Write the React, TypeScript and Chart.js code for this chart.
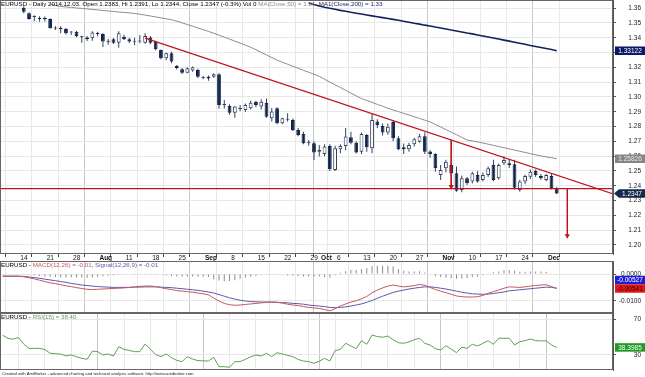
import React, { useEffect, useRef } from "react";
import { Chart, registerables } from "chart.js";

Chart.register(...registerables);

const FONT = '"Liberation Sans", Arial, sans-serif';

// ---------- time axis: trading-day index, 0 = 2014-07-14 ----------
const X_MIN = -3.5;
const X_MAX = 112.66;
const tickIdx = [0, 5, 10, 15, 20, 25, 30, 35, 40, 45, 50, 55, 57, 60, 65, 70, 75, 80, 85, 90, 95, 100];
const tickLabels = ["14", "21", "28", "Aug", "11", "18", "25", "Sep", "8", "15", "22", "29", "Oct", "6", "13", "20", "27", "Nov", "10", "17", "24", "Dec"];
const monthLabels = ["Aug", "Sep", "Oct", "Nov", "Dec"];

// ---------- daily bars: index 1 (2014-07-15) .. 102 (2014-12-03) ----------
const symbol = "EURUSD";
const lastDate = "2014.12.03";
const volume = 0;
const BAR_START = 1;
const opens = [
  1.3603, 1.3566, 1.354, 1.3529, 1.3528, 1.3527, 1.3466, 1.3461, 1.3459, 1.3436,
  1.3441, 1.3405, 1.3401, 1.3397, 1.3428, 1.3426, 1.3375, 1.339, 1.3367, 1.3407,
  1.339, 1.3373, 1.3374, 1.3367, 1.3401, 1.3374, 1.3318, 1.3261, 1.3295, 1.3209,
  1.3187, 1.3164, 1.3178, 1.3182, 1.3137, 1.3136, 1.3137, 1.3153, 1.2946, 1.2939,
  1.2894, 1.2918, 1.2912, 1.2924, 1.2968, 1.2935, 1.2961, 1.2856, 1.2924, 1.2822,
  1.2846, 1.2845, 1.2777, 1.275, 1.2692, 1.2687, 1.263, 1.2615, 1.2669, 1.2507,
  1.2647, 1.2669, 1.2728, 1.2691, 1.263, 1.2743, 1.2654, 1.2834, 1.2804, 1.2759,
  1.283, 1.2721, 1.2661, 1.2647, 1.268, 1.2698, 1.2735, 1.2631, 1.2615, 1.2473,
  1.2518, 1.2541, 1.2484, 1.2372, 1.2451, 1.2428, 1.2473, 1.2439, 1.2473, 1.2541,
  1.2451, 1.2552, 1.2552, 1.2545, 1.2372, 1.2428, 1.2461, 1.2502, 1.2466, 1.2439,
  1.2466, 1.2383,
];
const highs = [
  1.3612, 1.3572, 1.3552, 1.3545, 1.3543, 1.3532, 1.3478, 1.3478, 1.3466, 1.3446,
  1.3445, 1.3414, 1.3412, 1.3444, 1.344, 1.343, 1.3392, 1.3398, 1.3444, 1.342,
  1.34, 1.34, 1.3418, 1.343, 1.3412, 1.338, 1.332, 1.33, 1.3305, 1.3216,
  1.3195, 1.32, 1.3205, 1.319, 1.3142, 1.3145, 1.316, 1.316, 1.298, 1.295,
  1.2938, 1.2945, 1.2955, 1.2975, 1.2975, 1.2985, 1.299, 1.2925, 1.293, 1.286,
  1.289, 1.2855, 1.279, 1.2765, 1.271, 1.27, 1.2676, 1.268, 1.268, 1.267,
  1.268, 1.2791, 1.2765, 1.27, 1.276, 1.275, 1.2888, 1.285, 1.282, 1.282,
  1.284, 1.2735, 1.2685, 1.269, 1.2725, 1.275, 1.276, 1.264, 1.262, 1.2541,
  1.2575, 1.255, 1.253, 1.247, 1.246, 1.2495, 1.25, 1.249, 1.253, 1.2575,
  1.255, 1.26, 1.258, 1.2575, 1.244, 1.2475, 1.251, 1.251, 1.248, 1.248,
  1.248, 1.2391,
];
const lows = [
  1.3566, 1.3521, 1.3512, 1.3508, 1.351, 1.346, 1.3452, 1.343, 1.3422, 1.3418,
  1.3404, 1.3367, 1.3378, 1.338, 1.341, 1.3338, 1.3352, 1.3358, 1.3333, 1.3385,
  1.3365, 1.335, 1.3362, 1.336, 1.3356, 1.3315, 1.3255, 1.3248, 1.3228, 1.3185,
  1.3155, 1.316, 1.317, 1.3128, 1.312, 1.311, 1.313, 1.292, 1.2922, 1.288,
  1.286, 1.2905, 1.29, 1.2915, 1.293, 1.2915, 1.286, 1.2835, 1.2815, 1.2815,
  1.2834, 1.277, 1.2735, 1.268, 1.267, 1.2574, 1.2597, 1.26, 1.25, 1.25,
  1.262, 1.264, 1.268, 1.2618, 1.2615, 1.263, 1.262, 1.279, 1.274, 1.2745,
  1.27, 1.264, 1.2615, 1.263, 1.2665, 1.269, 1.2615, 1.259, 1.2495, 1.2439,
  1.249, 1.247, 1.236, 1.2357, 1.2405, 1.2415, 1.242, 1.243, 1.246, 1.243,
  1.244, 1.254, 1.252, 1.2375, 1.236, 1.241, 1.2445, 1.246, 1.244, 1.243,
  1.2375, 1.2344,
];
const closes = [
  1.3576, 1.3527, 1.3542, 1.3527, 1.3526, 1.3464, 1.3462, 1.3459, 1.343, 1.3438,
  1.3412, 1.3403, 1.339, 1.3435, 1.3426, 1.3374, 1.3373, 1.3367, 1.343, 1.339,
  1.3374, 1.3375, 1.3376, 1.3412, 1.3367, 1.3322, 1.3261, 1.3295, 1.3239, 1.3196,
  1.3164, 1.3194, 1.32, 1.3137, 1.3129, 1.3124, 1.3153, 1.2946, 1.2952, 1.2894,
  1.2935, 1.2921, 1.2946, 1.2961, 1.2946, 1.2968, 1.2867, 1.2902, 1.2822, 1.2856,
  1.2849, 1.2777, 1.2743, 1.2687, 1.2688, 1.2624, 1.2642, 1.2665, 1.2512, 1.2654,
  1.2669, 1.2732, 1.2691, 1.2624, 1.275, 1.2661, 1.2845, 1.2811, 1.2759, 1.2799,
  1.2721, 1.2647, 1.2647, 1.2676, 1.2715, 1.2735, 1.263, 1.2615, 1.2518, 1.2507,
  1.2563, 1.2484, 1.2367, 1.2451, 1.2417, 1.2484, 1.2428, 1.2473, 1.2518, 1.2439,
  1.2541, 1.2574, 1.2541, 1.2387, 1.2428, 1.2466, 1.2495, 1.2473, 1.2451, 1.2473,
  1.2383, 1.2347,
];

// ---------- moving averages ----------
const MA50_START = 6;
const ma50 = [
  1.3628, 1.3618, 1.3611, 1.3608, 1.3605, 1.3601, 1.3598, 1.3595, 1.3591, 1.3588,
  1.3584, 1.3581, 1.3578, 1.3574, 1.3571, 1.3568, 1.3564, 1.3559, 1.3553, 1.3547,
  1.3541, 1.3534, 1.3528, 1.3522, 1.3512, 1.3501, 1.3489, 1.3478, 1.3466, 1.3455,
  1.3443, 1.343, 1.3418, 1.3404, 1.3391, 1.3377, 1.3364, 1.335, 1.3336, 1.3319,
  1.3301, 1.3284, 1.3266, 1.3249, 1.3234, 1.3221, 1.3207, 1.3194, 1.318, 1.3167,
  1.3153, 1.3139, 1.312, 1.3101, 1.3082, 1.3064, 1.3045, 1.3026, 1.3007, 1.2989,
  1.2976, 1.2963, 1.295, 1.2937, 1.2924, 1.2912, 1.2901, 1.2889, 1.2878, 1.2866,
  1.2855, 1.2843, 1.2831, 1.2814, 1.2797, 1.278, 1.2762, 1.2745, 1.2727, 1.2709,
  1.2703, 1.2696, 1.2689, 1.2681, 1.2673, 1.2665, 1.2657, 1.2649, 1.2641, 1.2633,
  1.2625, 1.2617, 1.2609, 1.2602, 1.2595, 1.2589, 1.25826,
];
const MA200_START = 55;
const ma200 = [
  1.3635, 1.3624, 1.3614, 1.3606, 1.3599, 1.3592, 1.3585, 1.3579, 1.3572, 1.3566,
  1.356, 1.3554, 1.3548, 1.3542, 1.3536, 1.353, 1.3524, 1.3518, 1.3511, 1.3505,
  1.3498, 1.3492, 1.3485, 1.3479, 1.3472, 1.3466, 1.3459, 1.3452, 1.3446, 1.3439,
  1.3432, 1.3426, 1.3419, 1.3412, 1.3405, 1.3398, 1.3391, 1.3384, 1.3377, 1.337,
  1.3363, 1.3356, 1.3348, 1.3341, 1.3334, 1.3327, 1.332, 1.33122,
];

// ---------- drawn pattern (descending triangle) ----------
const trendLine = [{ i: 24, v: 1.3397 }, { i: 113, v: 1.2341 }];
const supportLine = [{ i: -4, v: 1.238 }, { i: 113, v: 1.238 }];
const arrowLeft = [{ i: 82, v: 1.2709 }, { i: 82, v: 1.2395 }];
const arrowRight = [{ i: 104, v: 1.238 }, { i: 104, v: 1.2062 }];

const priceTicks = [1.2, 1.21, 1.22, 1.23, 1.24, 1.25, 1.26, 1.27, 1.28, 1.29, 1.3, 1.31, 1.32, 1.33, 1.34, 1.35, 1.36];

// ---------- indicators: index -3 (2014-07-09) .. 102 ----------
const IND_START = -3;
const macd = [
  -0.0008, -0.0008, -0.0008, -0.0008, -0.001, -0.0014, -0.0018, -0.0023, -0.0028, -0.0033,
  -0.0036, -0.004, -0.0044, -0.0047, -0.0051, -0.0054, -0.0057, -0.0058, -0.0057, -0.0056,
  -0.0055, -0.0054, -0.0053, -0.0052, -0.005, -0.0048, -0.0046, -0.0045, -0.0045, -0.0047,
  -0.0051, -0.0055, -0.0058, -0.0062, -0.0064, -0.0066, -0.0068, -0.0071, -0.0074, -0.0078,
  -0.009, -0.0101, -0.011, -0.0115, -0.0117, -0.0116, -0.0114, -0.0112, -0.011, -0.0108,
  -0.0106, -0.0105, -0.0106, -0.0109, -0.0113, -0.0116, -0.0118, -0.0122, -0.0125, -0.0127,
  -0.0129, -0.0133, -0.0138, -0.013, -0.012, -0.0112, -0.0105, -0.01, -0.0093, -0.0084,
  -0.007, -0.006, -0.0052, -0.0045, -0.0041, -0.0045, -0.0048, -0.0046, -0.0043, -0.0039,
  -0.0042, -0.005, -0.0058, -0.0064, -0.007, -0.0076, -0.0082, -0.0085, -0.0086, -0.0086,
  -0.0085, -0.008, -0.0072, -0.0066, -0.006, -0.0053, -0.0048, -0.0049, -0.005, -0.0048,
  -0.0045, -0.0043, -0.0041, -0.004, -0.0047, -0.00541,
];
const signal = [
  -0.0008, -0.0008, -0.0008, -0.0008, -0.0009, -0.0011, -0.0013, -0.0016, -0.0019, -0.0022,
  -0.0025, -0.0028, -0.0031, -0.0035, -0.0038, -0.0041, -0.0043, -0.0045, -0.0047, -0.0048,
  -0.0049, -0.005, -0.005, -0.005, -0.005, -0.0049, -0.0049, -0.0048, -0.0048, -0.0048,
  -0.0049, -0.005, -0.0051, -0.0053, -0.0055, -0.0057, -0.0059, -0.0061, -0.0064, -0.0067,
  -0.0071, -0.0077, -0.0083, -0.0089, -0.0094, -0.0098, -0.0101, -0.0103, -0.0104, -0.0105,
  -0.0105, -0.0105, -0.0106, -0.0107, -0.0108, -0.011, -0.0111, -0.0113, -0.0116, -0.0118,
  -0.012, -0.0122, -0.0125, -0.0126, -0.0125, -0.0123, -0.012, -0.0116, -0.0112, -0.0106,
  -0.0099, -0.0091, -0.0083, -0.0076, -0.0069, -0.0064, -0.006, -0.0056, -0.0053, -0.005,
  -0.0048, -0.0048, -0.005, -0.0053, -0.0056, -0.006, -0.0064, -0.0068, -0.0071, -0.0074,
  -0.0075, -0.0076, -0.0075, -0.0073, -0.007, -0.0067, -0.0063, -0.0061, -0.0059, -0.0057,
  -0.0055, -0.0053, -0.0051, -0.0049, -0.005, -0.00527,
];
const histogram = [
  0, 0, 0, 0, -0.0001, -0.0003, -0.0005, -0.0007, -0.0009, -0.0011,
  -0.0011, -0.0012, -0.0013, -0.0012, -0.0013, -0.0013, -0.0014, -0.0013, -0.001, -0.0008,
  -0.0006, -0.0004, -0.0003, -0.0002, 0, 0.0001, 0.0003, 0.0003, 0.0003, 0.0001,
  -0.0002, -0.0005, -0.0007, -0.0009, -0.0009, -0.0009, -0.0009, -0.001, -0.001, -0.0011,
  -0.0019, -0.0024, -0.0027, -0.0026, -0.0023, -0.0018, -0.0013, -0.0009, -0.0006, -0.0003,
  -0.0001, 0, 0, -0.0002, -0.0005, -0.0006, -0.0007, -0.0009, -0.0009, -0.0009,
  -0.0009, -0.0011, -0.0013, -0.0004, 0.0005, 0.0011, 0.0015, 0.0016, 0.0019, 0.0022,
  0.0029, 0.0031, 0.0031, 0.0031, 0.0028, 0.0019, 0.0012, 0.001, 0.001, 0.0011,
  0.0006, -0.0002, -0.0008, -0.0011, -0.0014, -0.0016, -0.0018, -0.0017, -0.0015, -0.0012,
  -0.001, -0.0004, 0.0003, 0.0007, 0.001, 0.0014, 0.0015, 0.0012, 0.0009, 0.0009,
  0.001, 0.001, 0.001, 0.0009, 0.0003, -0.0001,
];
const rsi = [
  52, 48.5, 47.6, 49.5, 42, 37.4, 37.4, 37.4, 36, 31.9,
  31.5, 31, 29, 30, 28, 26.3, 25.2, 34.4, 33.7, 30,
  31.1, 28.9, 39.2, 36.3, 35, 33.7, 33.7, 42.2, 36.5, 30.5,
  28.1, 31.1, 27, 24, 22.6, 28.1, 25.5, 23.7, 23.5, 23.3,
  27.4, 17, 17, 16.3, 22.6, 22.6, 25.2, 28, 30, 28.9,
  31.9, 28.1, 32.6, 31.1, 29.5, 28.1, 25, 23.3, 22.6, 20.8,
  23, 26.3, 23.3, 34.8, 36.3, 43, 40, 37, 45.9, 41.9,
  52.2, 50.5, 49.7, 51.1, 47, 43.7, 43, 44.5, 47, 48.6,
  43, 41.1, 37, 35.6, 40.3, 36.5, 32.6, 38.6, 37.4, 41.9,
  40, 43, 45.9, 41.9, 48.6, 48.6, 48.6, 41.1, 44.8, 46,
  47.8, 46, 45.6, 45.9, 41.1, 38.3985,
];
const macdTicks = [-0.01, 0];
const rsiTicks = [30, 70];

// ---------- colours ----------
const DOWN = "#0f2347";
const EDGE = "#34405c";
const RED = "#c0141c";
const MA50_C = "#8c8c8c";
const MA200_C = "#141f5c";
const MACD_C = "#c2585e";
const SIG_C = "#5a5aa8";
const RSI_C = "#5f9f55";

const pts = (start: number, arr: number[]) => arr.map((v, k) => ({ x: start + k, y: v }));
const seg = (arr: { i: number; v: number }[]) => arr.map((p) => ({ x: p.i, y: p.v }));

const noPad = (axis: any) => {
  axis.paddingTop = 0;
  axis.paddingBottom = 0;
  axis.paddingLeft = 0;
  axis.paddingRight = 0;
};

function xAxis(showLabels: boolean): any {
  return {
    type: "linear",
    min: X_MIN,
    max: X_MAX,
    offset: false,
    afterBuildTicks: (axis: any) => {
      axis.ticks = tickIdx.map((v) => ({ value: v }));
    },
    afterFit: (axis: any) => {
      axis.height = showLabels ? 8 : 0;
      noPad(axis);
    },
    border: { display: false },
    grid: {
      color: (c: any) => (monthLabels.includes(tickLabels[c.index]) ? "#c6c6c6" : "#e8e8e8"),
      lineWidth: 1,
      drawTicks: showLabels,
      tickLength: 3,
      tickColor: "#444",
    },
    ticks: {
      display: showLabels,
      autoSkip: false,
      maxRotation: 0,
      minRotation: 0,
      align: "start",
      padding: -3,
      color: "#111",
      font: (c: any) => ({
        family: FONT,
        size: 6.5,
        weight: monthLabels.includes(tickLabels[c.index]) ? "bold" : "normal",
      }),
      callback: (_v: any, i: number) => " " + tickLabels[i],
    },
  };
}

function yAxis(min: number, max: number, ticks: number[], digits: number): any {
  return {
    type: "linear",
    position: "right",
    min,
    max,
    afterBuildTicks: (axis: any) => {
      axis.ticks = ticks.map((v) => ({ value: v }));
    },
    afterFit: (axis: any) => {
      axis.width = 28;
      noPad(axis);
    },
    border: { display: true, color: "#555", width: 1 },
    grid: { color: "#e8e8e8", drawTicks: true, tickLength: 3, tickColor: "#555" },
    ticks: {
      crossAlign: "far",
      padding: 3,
      color: "#222",
      font: { family: FONT, size: 6.5 },
      callback: (v: any) => Number(v).toFixed(digits),
    },
  };
}

type Seg = [string, string];
function titlePlugin(segs: Seg[]) {
  return {
    id: "amiTitle",
    afterDraw(chart: any) {
      const { ctx, chartArea } = chart;
      ctx.save();
      ctx.font = `6.2px ${FONT}`;
      ctx.textBaseline = "top";
      let x = chartArea.left + 1;
      for (const [t, c] of segs) {
        ctx.fillStyle = c;
        ctx.fillText(t, x, chartArea.top + 1.5);
        x += ctx.measureText(t).width;
      }
      ctx.restore();
    },
  };
}

const framePlugin = {
  id: "amiFrame",
  afterDraw(chart: any) {
    const { ctx, chartArea: a } = chart;
    ctx.save();
    ctx.strokeStyle = "#666";
    ctx.lineWidth = 1;
    ctx.strokeRect(Math.round(a.left) + 0.5, Math.round(a.top) + 0.5, Math.round(a.right - a.left) - 1, Math.round(a.bottom - a.top) - 1);
    ctx.restore();
  },
};

type Box = { value: number; text: string; bg: string; fg: string; pointer?: boolean };
function boxesPlugin(boxes: Box[]) {
  return {
    id: "amiBoxes",
    afterDraw(chart: any) {
      const { ctx, chartArea, scales } = chart;
      const h = 8.5;
      const items = boxes
        .map((b) => ({ ...b, py: scales.y.getPixelForValue(b.value) }))
        .sort((a, b) => a.py - b.py);
      for (let i = items.length - 2; i >= 0; i--) {
        if (items[i].py > items[i + 1].py - h) items[i].py = items[i + 1].py - h;
      }
      ctx.save();
      ctx.font = `6.5px ${FONT}`;
      ctx.textBaseline = "middle";
      ctx.textAlign = "center";
      const x0 = chartArea.right + 2;
      const x1 = chart.width;
      for (const b of items) {
        ctx.fillStyle = b.bg;
        ctx.beginPath();
        if (b.pointer) {
          ctx.moveTo(chartArea.right + 1, b.py);
          ctx.lineTo(x0 + 4, b.py - h / 2);
          ctx.lineTo(x1, b.py - h / 2);
          ctx.lineTo(x1, b.py + h / 2);
          ctx.lineTo(x0 + 4, b.py + h / 2);
        } else {
          ctx.rect(x0, b.py - h / 2, x1 - x0, h);
        }
        ctx.closePath();
        ctx.fill();
        ctx.fillStyle = b.fg;
        ctx.fillText(b.text, (x0 + x1) / 2 + (b.pointer ? 2 : 0), b.py + 0.5);
      }
      ctx.restore();
    },
  };
}

const footerPlugin = {
  id: "amiFooter",
  afterDraw(chart: any) {
    const { ctx, chartArea } = chart;
    ctx.save();
    ctx.font = `4.2px ${FONT}`;
    ctx.fillStyle = "#222";
    ctx.textBaseline = "top";
    ctx.fillText(
      "Created with AmiBroker - advanced charting and technical analysis software. http://www.amibroker.com",
      2,
      chartArea.bottom + 1.5
    );
    ctx.restore();
  },
};

const baseOptions = (bottomPad: number) => ({
  animation: false as const,
  responsive: true,
  maintainAspectRatio: false,
  events: [] as any[],
  layout: { autoPadding: false, padding: { left: 0, right: 4, top: 0, bottom: bottomPad } },
  plugins: { legend: { display: false }, tooltip: { enabled: false }, title: { display: false } },
});

function priceConfig(): any {
  const L = closes.length - 1;
  const chg = (((closes[L] - closes[L - 1]) / closes[L - 1]) * 100).toFixed(1);
  const head = `${symbol} - Daily ${lastDate}. Open ${opens[L].toFixed(4)}, Hi ${highs[L].toFixed(4)}, Lo ${lows[L].toFixed(4)}, Close ${closes[L].toFixed(4)} (${chg}%) Vol ${volume} `;
  const m50 = ma50[ma50.length - 1];
  const m200 = ma200[ma200.length - 1];
  const isDoji = (k: number) => Math.abs(closes[k] - opens[k]) < 0.0004;
  return {
    type: "bar",
    data: {
      datasets: [
        { type: "line", data: pts(MA50_START, ma50), borderColor: MA50_C, borderWidth: 1, pointRadius: 0, order: 1 },
        { type: "line", data: pts(MA200_START, ma200), borderColor: MA200_C, borderWidth: 1.6, pointRadius: 0, order: 1 },
        { type: "line", data: seg(trendLine), borderColor: RED, borderWidth: 1.3, pointRadius: 0, order: 0 },
        { type: "line", data: seg(supportLine), borderColor: RED, borderWidth: 1.3, pointRadius: 0, order: 0 },
        {
          type: "line", data: seg(arrowLeft), borderColor: RED, borderWidth: 1, order: 0,
          pointRadius: [0, 3], pointStyle: "triangle", rotation: 180, pointBackgroundColor: RED, pointBorderWidth: 0,
        },
        {
          type: "line", data: seg(arrowRight), borderColor: RED, borderWidth: 1, order: 0,
          pointRadius: [0, 3], pointStyle: "triangle", rotation: 180, pointBackgroundColor: RED, pointBorderWidth: 0,
        },
        {
          type: "bar",
          data: opens.map((o, k) => ({ x: BAR_START + k, y: [o, closes[k]] })),
          grouped: false,
          maxBarThickness: 4,
          minBarLength: 1,
          borderWidth: 1,
          borderSkipped: false,
          backgroundColor: (c: any) => (isDoji(c.dataIndex) ? EDGE : closes[c.dataIndex] > opens[c.dataIndex] ? "#ffffff" : DOWN),
          borderColor: (c: any) => (closes[c.dataIndex] > opens[c.dataIndex] ? EDGE : DOWN),
          order: 5,
        },
        {
          type: "bar",
          data: lows.map((l, k) => ({ x: BAR_START + k, y: [l, highs[k]] })),
          grouped: false,
          maxBarThickness: 1,
          backgroundColor: EDGE,
          borderWidth: 0,
          order: 6,
        },
      ],
    },
    options: {
      ...baseOptions(0),
      scales: { x: xAxis(true), y: yAxis(1.1939, 1.3655, priceTicks, 2) },
    },
    plugins: [
      framePlugin,
      titlePlugin([
        [head, "#000"],
        [`MA(Close,50) = ${m50.toFixed(2)}, `, MA50_C],
        [`MA1(Close,200) = ${m200.toFixed(2)}`, MA200_C],
      ]),
      boxesPlugin([
        { value: m200, text: m200.toFixed(5), bg: "#0b1a66", fg: "#fff" },
        { value: m50, text: m50.toFixed(5), bg: "#858585", fg: "#e8e8e8" },
        { value: closes[L], text: closes[L].toFixed(4), bg: "#132a4c", fg: "#fff", pointer: true },
      ]),
    ],
  };
}

function macdConfig(): any {
  const L = macd.length - 1;
  return {
    type: "bar",
    data: {
      datasets: [
        { type: "line", data: pts(IND_START, macd), borderColor: MACD_C, borderWidth: 1, pointRadius: 0, order: 1 },
        { type: "line", data: pts(IND_START, signal), borderColor: SIG_C, borderWidth: 1, pointRadius: 0, order: 1 },
        {
          type: "bar", data: pts(IND_START, histogram), grouped: false, maxBarThickness: 1,
          backgroundColor: "#8a8a8a", borderWidth: 0, order: 2,
        },
      ],
    },
    options: {
      ...baseOptions(0),
      scales: { x: xAxis(false), y: yAxis(-0.0146, 0.0049, macdTicks, 4) },
    },
    plugins: [
      framePlugin,
      titlePlugin([
        [`${symbol} - `, "#000"],
        [`MACD(12,26) = ${macd[L].toFixed(2)}`, MACD_C],
        [", ", "#000"],
        [`Signal(12,26,9) = ${signal[L].toFixed(2)}`, SIG_C],
      ]),
      boxesPlugin([
        { value: signal[L], text: signal[L].toFixed(5), bg: "#1f1fd8", fg: "#fff" },
        { value: macd[L], text: macd[L].toFixed(5), bg: "#e01818", fg: "#3a0000" },
      ]),
    ],
  };
}

function rsiConfig(): any {
  const L = rsi.length - 1;
  return {
    type: "line",
    data: {
      datasets: [{ data: pts(IND_START, rsi), borderColor: RSI_C, borderWidth: 1, pointRadius: 0 }],
    },
    options: {
      ...baseOptions(7),
      scales: { x: xAxis(false), y: yAxis(13.3, 76.7, rsiTicks, 0) },
    },
    plugins: [
      framePlugin,
      footerPlugin,
      titlePlugin([
        [`${symbol} - `, "#000"],
        [`RSI(15) = ${rsi[L].toFixed(2)}`, RSI_C],
      ]),
      boxesPlugin([{ value: rsi[L], text: rsi[L].toFixed(4), bg: "#1f9a24", fg: "#fff" }]),
    ],
  };
}

export default function App() {
  const priceRef = useRef<HTMLCanvasElement>(null);
  const macdRef = useRef<HTMLCanvasElement>(null);
  const rsiRef = useRef<HTMLCanvasElement>(null);

  useEffect(() => {
    const charts = [
      new Chart(priceRef.current as HTMLCanvasElement, priceConfig()),
      new Chart(macdRef.current as HTMLCanvasElement, macdConfig()),
      new Chart(rsiRef.current as HTMLCanvasElement, rsiConfig()),
    ];
    return () => charts.forEach((c) => c.destroy());
  }, []);

  const box = (top: number, height: number): React.CSSProperties => ({
    position: "absolute",
    left: 0,
    top,
    width: 645,
    height,
  });

  return (
    <div style={{ position: "fixed", left: 0, top: 0, width: 645, height: 377, background: "#fff", overflow: "hidden" }}>
      <div style={box(0, 262)}>
        <canvas ref={priceRef} />
      </div>
      <div style={box(261, 52)}>
        <canvas ref={macdRef} />
      </div>
      <div style={box(313, 64)}>
        <canvas ref={rsiRef} />
      </div>
    </div>
  );
}
